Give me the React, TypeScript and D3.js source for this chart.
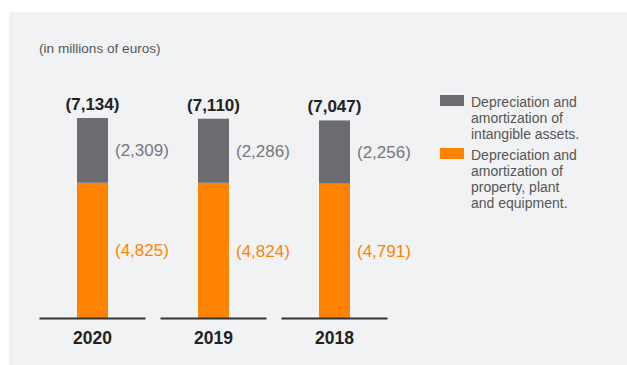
import React from "react";
import * as d3 from "d3";

const years = ["2020", "2019", "2018"];
const intangibles = [2309, 2286, 2256];
const property = [4825, 4824, 4791];
const legendIntangible = ["Depreciation and", "amortization of", "intangible assets."];
const legendProperty = ["Depreciation and", "amortization of", "property, plant", "and equipment."];
const unitNote = "(in millions of euros)";

const W = 627;
const H = 365;
const GRAY = "#6b6c6f";
const ORANGE = "#ff8300";
const FONT = "'Liberation Sans', Arial, Helvetica, sans-serif";

const fmt = (v: number) => `(${d3.format(",")(v)})`;

export default function App() {
  const totals = years.map((_, i) => intangibles[i] + property[i]);
  const x = d3.scalePoint<string>().domain(years).range([92.5, 334.5]);
  const y = d3.scaleLinear().domain([0, d3.max(totals) as number]).range([318, 118]);
  const barW = 31;
  const baseHalf = 53;

  return (
    <svg
      width={W}
      height={H}
      style={{ position: "absolute", left: 0, top: 0, fontFamily: FONT }}
    >
      <rect x={9} y={12} width={W - 9} height={H - 12} fill="#f1f2f4" />
      <text x={39} y={52.5} fontSize={13.6} fill="#555">
        {unitNote}
      </text>

      {years.map((yr, i) => {
        const cx = x(yr) as number;
        const y0 = y(0);
        const yP = y(property[i]);
        const yT = y(totals[i]);
        return (
          <g key={yr}>
            <rect x={cx - barW / 2} y={yP} width={barW} height={y0 - yP} fill={ORANGE} />
            <rect x={cx - barW / 2} y={yT} width={barW} height={yP - yT} fill={GRAY} />
            <line
              x1={cx - baseHalf}
              x2={cx + baseHalf}
              y1={y0 + 0.5}
              y2={y0 + 0.5}
              stroke="#333"
              strokeWidth={2}
            />
            <text
              x={cx}
              y={yT - 8}
              textAnchor="middle"
              fontSize={17}
              fontWeight="bold"
              fill="#222"
            >
              {fmt(totals[i])}
            </text>
            <text
              x={cx + barW / 2 + 7}
              y={(yT + yP) / 2}
              dy="0.36em"
              fontSize={17}
              fill="#77787b"
            >
              {fmt(intangibles[i])}
            </text>
            <text
              x={cx + barW / 2 + 7}
              y={(yP + y0) / 2}
              dy="0.36em"
              fontSize={17}
              fill={ORANGE}
            >
              {fmt(property[i])}
            </text>
            <text
              x={cx}
              y={344}
              textAnchor="middle"
              fontSize={17.5}
              fontWeight="bold"
              fill="#222"
            >
              {yr}
            </text>
          </g>
        );
      })}

      <g>
        <rect x={440} y={95} width={24} height={11} fill={GRAY} />
        {legendIntangible.map((t, k) => (
          <text key={t} x={471} y={106.5 + k * 16} fontSize={14} fill="#555">
            {t}
          </text>
        ))}
        <rect x={440} y={148} width={24} height={11} fill={ORANGE} />
        {legendProperty.map((t, k) => (
          <text key={t} x={471} y={159.5 + k * 16} fontSize={14} fill="#555">
            {t}
          </text>
        ))}
      </g>
    </svg>
  );
}
